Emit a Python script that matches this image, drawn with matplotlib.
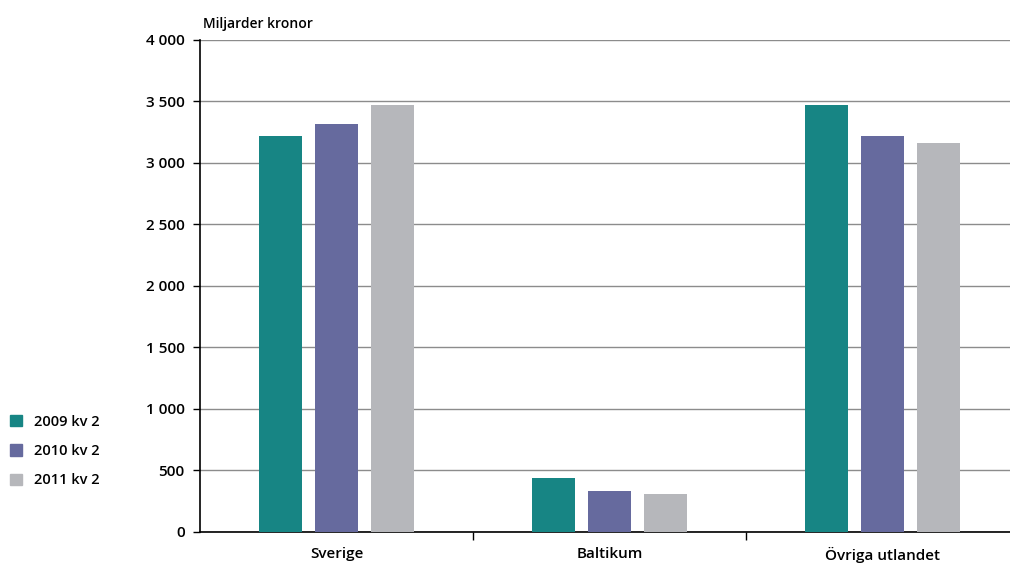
import matplotlib.pyplot as plt
from matplotlib.patches import Patch
import numpy as np

# data
categories = ['Sverige', 'Baltikum', 'Övriga utlandet']
series = ['2009 kv 2', '2010 kv 2', '2011 kv 2']
v2009 = [3220, 440, 3470]
v2010 = [3320, 335, 3220]
v2011 = [3470, 310, 3160]
colors = ['#178584', '#666a9e', '#b6b7bb']

plt.rcParams['font.family'] = ['Open Sans', 'DejaVu Sans']

fig = plt.figure(figsize=(10.1, 5.66), dpi=100)
ax = fig.add_axes([0.198, 0.0601, 0.802, 0.8693])

x = np.arange(len(categories))
w = 0.16
off = 0.205
for i, (vals, c) in enumerate(zip([v2009, v2010, v2011], colors)):
    ax.bar(x + (i - 1) * off, vals, width=w, color=c, zorder=3)

ax.set_xlim(-0.5, 2.467)
ax.set_ylim(0, 4000)
ax.set_yticks(range(0, 4001, 500))
ax.set_yticklabels([f'{v:,}'.replace(',', ' ') for v in range(0, 4001, 500)])
ax.yaxis.grid(True, color='#8c8c8c', linewidth=1, zorder=0)

ax.set_xticks([0.5, 1.5])
ax.set_xticklabels([])
ax.set_xticks(x, minor=True)
ax.set_xticklabels(categories, minor=True)
ax.tick_params(axis='x', which='major', length=6, width=1, direction='out')
ax.tick_params(axis='x', which='minor', length=0, pad=11, labelsize=11)
ax.tick_params(axis='y', length=5, width=1, direction='out', labelsize=11, pad=6)
for lab in ax.get_xticklabels(minor=True) + ax.get_yticklabels():
    lab.set_fontweight('semibold')

for s in ['top', 'right']:
    ax.spines[s].set_visible(False)
ax.spines['left'].set_linewidth(1.2)
ax.spines['bottom'].set_linewidth(1.2)

fig.text(0.201, 0.958, 'Miljarder kronor', fontsize=10, fontweight='semibold',
         ha='left', va='center')

handles = [Patch(color=c, label=s) for c, s in zip(colors, series)]
leg = fig.legend(handles=handles, loc='center left', bbox_to_anchor=(0.0, 0.203),
                 frameon=False, fontsize=10.5, handlelength=0.8, handleheight=0.8,
                 handletextpad=0.8, labelspacing=1.05, borderaxespad=0.3)
for t in leg.get_texts():
    t.set_fontweight('semibold')

fig.savefig('out.png', dpi=100)
